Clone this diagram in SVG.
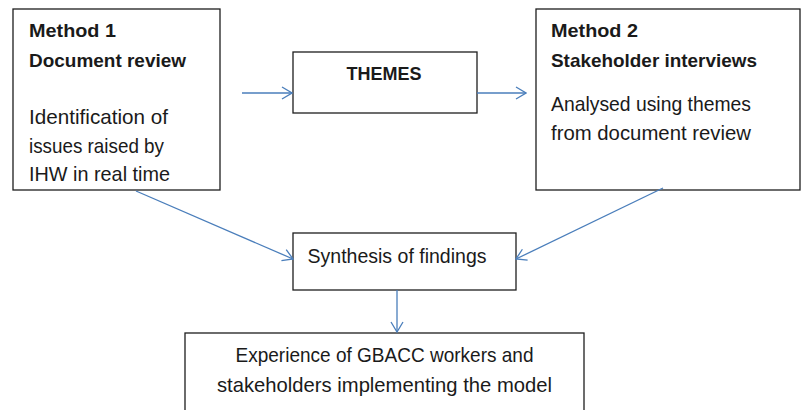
<svg xmlns="http://www.w3.org/2000/svg" width="806" height="410" viewBox="0 0 806 410">
<style>
.box{fill:#ffffff;stroke:#1e1e1e;stroke-width:1.3}
.b{font-family:"Liberation Sans",Arial,sans-serif;font-weight:bold;font-size:19px;fill:#1a1a1a}
.r{font-family:"Liberation Sans",Arial,sans-serif;font-size:21px;fill:#1a1a1a}
.c{fill:none;stroke:#4a7ebb;stroke-width:1.3}
</style>
<defs>
<marker id="ah" viewBox="0 0 12 14" refX="11" refY="7" markerWidth="12" markerHeight="14" markerUnits="userSpaceOnUse" orient="auto">
<path d="M1,1 L11,7 L1,13" fill="none" stroke="#4a7ebb" stroke-width="1.3"/>
</marker>
</defs>
<rect width="806" height="410" fill="#ffffff"/>
<g id="method1">
<rect class="box" x="13" y="9" width="207" height="181"/>
<text class="b" x="29" y="37" textLength="87" lengthAdjust="spacingAndGlyphs">Method 1</text>
<text class="b" x="29" y="67" textLength="157" lengthAdjust="spacingAndGlyphs">Document review</text>
<text class="r" x="29" y="124" textLength="139" lengthAdjust="spacingAndGlyphs">Identification of</text>
<text class="r" x="29" y="152.5" textLength="135" lengthAdjust="spacingAndGlyphs">issues raised by</text>
<text class="r" x="29" y="181" textLength="141" lengthAdjust="spacingAndGlyphs">IHW in real time</text>
</g>
<g id="themes">
<rect class="box" x="293" y="52" width="184" height="61"/>
<text class="b" x="384" y="80" text-anchor="middle" textLength="75" lengthAdjust="spacingAndGlyphs">THEMES</text>
</g>
<g id="method2">
<rect class="box" x="536" y="9" width="264" height="181"/>
<text class="b" x="551" y="37" textLength="87" lengthAdjust="spacingAndGlyphs">Method 2</text>
<text class="b" x="551" y="67" textLength="206" lengthAdjust="spacingAndGlyphs">Stakeholder interviews</text>
<text class="r" x="551" y="110.5" textLength="200" lengthAdjust="spacingAndGlyphs">Analysed using themes</text>
<text class="r" x="551" y="140" textLength="200" lengthAdjust="spacingAndGlyphs">from document review</text>
</g>
<g id="synthesis">
<rect class="box" x="293" y="233" width="223" height="57"/>
<text class="r" x="307.5" y="263" textLength="179" lengthAdjust="spacingAndGlyphs">Synthesis of findings</text>
</g>
<g id="experience">
<rect class="box" x="185" y="333" width="399" height="90"/>
<text class="r" x="384.5" y="362" text-anchor="middle" textLength="298" lengthAdjust="spacingAndGlyphs">Experience of GBACC workers and</text>
<text class="r" x="384.5" y="392" text-anchor="middle" textLength="335" lengthAdjust="spacingAndGlyphs">stakeholders implementing the model</text>
</g>
<g id="connectors">
<line class="c" x1="242" y1="93" x2="292" y2="93" marker-end="url(#ah)"/>
<line class="c" x1="477" y1="93" x2="526" y2="93" marker-end="url(#ah)"/>
<line class="c" x1="136" y1="191" x2="293" y2="259" marker-end="url(#ah)"/>
<line class="c" x1="663" y1="188" x2="516" y2="259" marker-end="url(#ah)"/>
<line class="c" x1="397" y1="290" x2="397" y2="332" marker-end="url(#ah)"/>
</g>
</svg>
